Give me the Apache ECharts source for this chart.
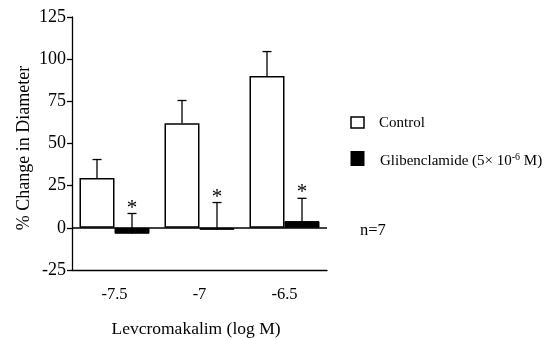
<!DOCTYPE html>
<html><head><meta charset="utf-8">
<script src="https://cdn.jsdelivr.net/npm/echarts@6/dist/echarts.min.js"></script>
<style>html,body{margin:0;padding:0;background:#fff}#c{width:550px;height:338px}</style>
</head><body><div id="c"></div>
<script>
const categories = ['-7.5', '-7', '-6.5'];
const controlValues = [29.5, 62, 90];
const controlErrTop = [40.5, 75.5, 104.5];
const glibenValues = [-3.5, -1.2, 4];
const glibenErrTop = [8.5, 15, 17.5];
const yTicks = [-25, 0, 25, 50, 75, 100, 125];

const FONT = 'Liberation Serif';
const BAR_W = 35;
const chart = echarts.init(document.getElementById('c'), null, {renderer: 'canvas'});

function errItem(offset, star) {
  return function (params, api) {
    const c = api.value(0);
    const v = api.value(1);
    const t = api.value(2);
    const p0 = api.coord([c, v]);
    const p1 = api.coord([c, t]);
    const x = p0[0] + offset;
    const children = [
      {type: 'line', shape: {x1: x, y1: p0[1], x2: x, y2: p1[1]}, style: {stroke: '#000', lineWidth: 1.3}},
      {type: 'line', shape: {x1: x - 4.5, y1: p1[1], x2: x + 4.5, y2: p1[1]}, style: {stroke: '#000', lineWidth: 1.3}}
    ];
    if (star) {
      children.push({type: 'text', style: {text: '*', x: x, y: p1[1] + 5, textAlign: 'center', textVerticalAlign: 'bottom', font: '21px ' + FONT, fill: '#000'}});
    }
    return {type: 'group', children: children};
  };
}

chart.setOption({
  animation: false,
  backgroundColor: '#fff',
  grid: {left: 72, right: 223, top: 17, bottom: 68, containLabel: false},
  xAxis: {
    type: 'category', data: categories, boundaryGap: true,
    axisLine: {onZero: false, lineStyle: {color: '#000', width: 1.3}},
    axisTick: {alignWithLabel: true, length: 5, lineStyle: {color: '#000', width: 1.3}},
    axisLabel: {fontFamily: FONT, fontSize: 16.5, color: '#000', margin: 16}
  },
  yAxis: {
    type: 'value', min: -25, max: 125, interval: 25,
    axisLine: {show: true, lineStyle: {color: '#000', width: 1.3}},
    axisTick: {show: true, length: 5, lineStyle: {color: '#000', width: 1.3}},
    axisLabel: {fontFamily: FONT, fontSize: 18, color: '#000', margin: 6,
      formatter: function (v) { return yTicks.indexOf(v) >= 0 ? String(v) : ''; }},
    splitLine: {show: false}
  },
  series: [
    {name: 'Control', type: 'bar', data: controlValues, barWidth: BAR_W, barGap: '0%',
      itemStyle: {color: '#fff', borderColor: '#000', borderWidth: 1.5},
      markLine: {silent: true, symbol: 'none', label: {show: false},
        lineStyle: {color: '#000', width: 1.5, type: 'solid'}, data: [{yAxis: 0}]}},
    {name: 'Glibenclamide', type: 'bar', data: glibenValues, barWidth: BAR_W, barGap: '0%',
      itemStyle: {color: '#000', borderColor: '#000', borderWidth: 1}},
    {type: 'custom', renderItem: errItem(-BAR_W / 2, false), z: 5,
      data: categories.map((c, i) => [i, controlValues[i], controlErrTop[i]])},
    {type: 'custom', renderItem: errItem(BAR_W / 2, true), z: 5,
      data: categories.map((c, i) => [i, glibenValues[i], glibenErrTop[i]])}
  ],
  graphic: [
    {type: 'text', x: 24, y: 148, rotation: Math.PI / 2,
      style: {text: '% Change in Diameter', font: '18px ' + FONT, fill: '#000', textAlign: 'center', textVerticalAlign: 'middle'}},
    {type: 'text', x: 196, y: 329,
      style: {text: 'Levcromakalim (log M)', font: '17.5px ' + FONT, fill: '#000', textAlign: 'center', textVerticalAlign: 'middle'}},
    {type: 'rect', shape: {x: 351, y: 117, width: 13, height: 11}, style: {fill: '#fff', stroke: '#000', lineWidth: 1.5}},
    {type: 'text', x: 379, y: 123,
      style: {text: 'Control', font: '15px ' + FONT, fill: '#000', textVerticalAlign: 'middle'}},
    {type: 'rect', shape: {x: 350.5, y: 151, width: 14, height: 15}, style: {fill: '#000'}},
    {type: 'text', x: 380, y: 161,
      style: {text: '{a|Glibenclamide (5× 10}{s|-6}{a| M)}', textVerticalAlign: 'middle',
        rich: {a: {font: '15px ' + FONT, fill: '#000', color: '#000'}, s: {font: '10px ' + FONT, color: '#000', fill: '#000', verticalAlign: 'top', padding: [0, 0, 7, 0]}}}},
    {type: 'text', x: 360, y: 231,
      style: {text: 'n=7', font: '16.5px ' + FONT, fill: '#000', textVerticalAlign: 'middle'}}
  ]
});
</script></body></html>
